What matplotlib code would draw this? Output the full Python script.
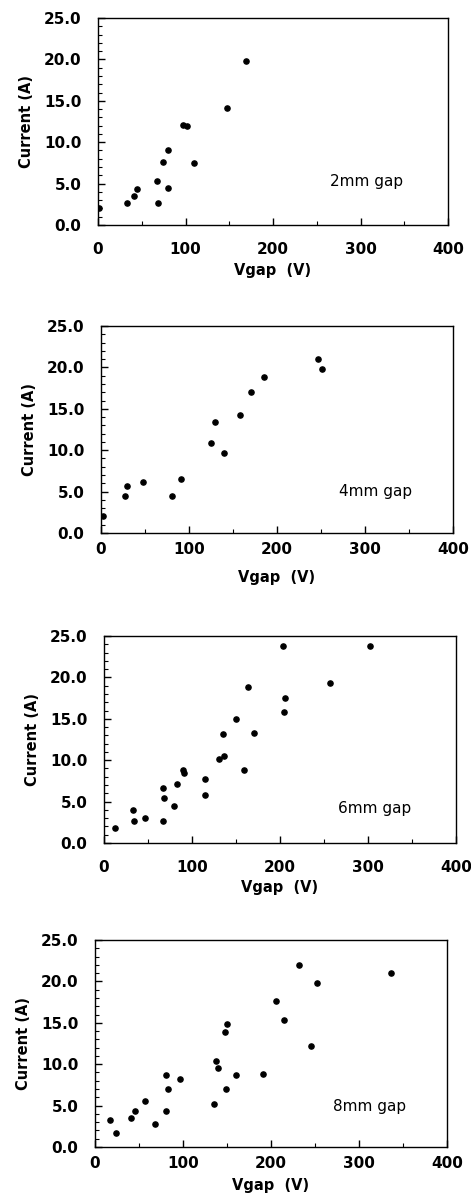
import numpy as np
import matplotlib
matplotlib.use("Agg")
import matplotlib.pyplot as plt
from matplotlib.ticker import MultipleLocator, FormatStrFormatter

plt.rcParams['font.family'] = ['DejaVu Sans']

# données : Vgap (V) et courant (A)
v_2mm = [1, 33.5, 41.5, 44.6, 67.4, 68.2, 74.7, 79.6, 79.6, 97.5, 101.3, 109.3, 147, 168.8]
i_2mm = [2.0, 2.66, 3.55, 4.4, 5.36, 2.7, 7.6, 9.0, 4.44, 12.1, 12.0, 7.46, 14.15, 19.8]

v_4mm = [1.9, 27.6, 29.5, 47.2, 80.8, 91, 125.4, 130, 139.4, 158, 171, 184.7, 247, 251.6]
i_4mm = [2.09, 4.42, 5.71, 6.11, 4.42, 6.55, 10.9, 13.46, 9.69, 14.3, 17.0, 18.9, 21.06, 19.8]

v_6mm = [12.1, 33.3, 34, 46.2, 67.4, 67.7, 67.4, 79.5, 82.9, 89.3, 90.4, 114.7, 115.1,
         130.6, 135.1, 135.9, 149.9, 159.3, 163.1, 169.9, 203.2, 204.7, 205.9, 257, 302.4]
i_6mm = [1.81, 3.99, 2.62, 3.06, 6.68, 5.39, 2.66, 4.43, 7.08, 8.86, 8.41, 7.77, 5.76,
         10.1, 13.2, 10.5, 14.98, 8.82, 18.9, 13.25, 23.8, 15.8, 17.5, 19.3, 23.8]

v_8mm = [17.4, 23.5, 41.2, 45.4, 57.1, 68.5, 80.2, 80.6, 82.9, 96.1, 135.1, 137, 139.3,
         148, 148.4, 149.5, 160.5, 190.7, 205.9, 214.9, 232, 246, 252.4, 336]
i_8mm = [3.31, 1.65, 3.47, 4.35, 5.6, 2.74, 4.4, 8.75, 7.0, 8.27, 5.24, 10.4, 9.56,
         13.9, 7.0, 14.8, 8.75, 8.83, 17.6, 15.3, 21.94, 12.2, 19.76, 21.0]

labels = ["2mm gap", "4mm gap", "6mm gap", "8mm gap"]
label_pos = [(265, 5.2), (271, 5.0), (266, 4.2), (270, 4.9)]

# position des axes en pixels (gauche, droite, haut, bas)
boites = [(98, 448, 18, 225), (101, 453, 326, 533), (104, 456, 636, 843), (95, 447, 940, 1147)]
# écart des étiquettes de l'axe x (pad des graduations, labelpad)
pads_x = [(12.5, 4), (6.5, 9), (12, 3.5), (6.5, 5)]

W, H = 471, 1197
fig = plt.figure(figsize=(W/100, H/100), dpi=100)

donnees = [(v_2mm, i_2mm), (v_4mm, i_4mm), (v_6mm, i_6mm), (v_8mm, i_8mm)]

for k in range(4):
    g, d, h, b = boites[k]
    ax = fig.add_axes([g/W, 1 - b/H, (d-g)/W, (b-h)/H])
    v, i = donnees[k]
    ax.scatter(v, i, s=14, color='black', zorder=3)
    ax.set_xlim(0, 400)
    ax.set_ylim(0, 25)
    ax.xaxis.set_major_locator(MultipleLocator(100))
    ax.xaxis.set_minor_locator(MultipleLocator(50))
    ax.yaxis.set_major_locator(MultipleLocator(5))
    ax.yaxis.set_minor_locator(MultipleLocator(1))
    ax.yaxis.set_major_formatter(FormatStrFormatter('%.1f'))
    ax.tick_params(which='major', direction='in', length=5, width=1.0,
                   labelsize=11)
    ax.tick_params(axis='x', which='major', pad=pads_x[k][0])
    ax.tick_params(axis='y', which='major', pad=12)
    ax.tick_params(which='minor', direction='in', length=3, width=0.8)
    for lab in ax.get_xticklabels() + ax.get_yticklabels():
        lab.set_fontweight('bold')
    for sp in ax.spines.values():
        sp.set_linewidth(1.0)
    ax.set_xlabel('Vgap  (V)', fontsize=10.5, fontweight='bold', labelpad=pads_x[k][1])
    ax.set_ylabel('Current (A)', fontsize=10.5, fontweight='bold', labelpad=7)
    ax.text(label_pos[k][0], label_pos[k][1], labels[k], fontsize=11,
            va='center', ha='left')

fig.savefig("out.png", dpi=100)
